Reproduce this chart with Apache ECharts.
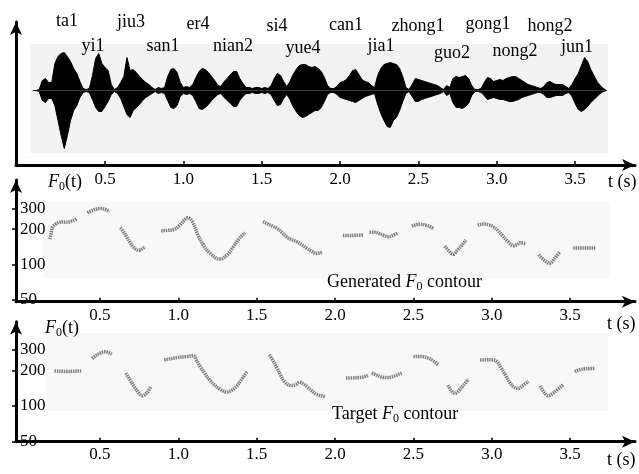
<!DOCTYPE html>
<html>
<head>
<meta charset="utf-8">
<script src="https://cdn.jsdelivr.net/npm/echarts@6/dist/echarts.min.js"></script>
<style>
  html, body { margin: 0; padding: 0; background: #fff; }
  #chart { width: 639px; height: 474px; }
</style>
</head>
<body>
<div id="chart"></div>
<script>
// syllable labels above the waveform
const syllables = ['ta1', 'yi1', 'jiu3', 'san1', 'er4', 'nian2', 'si4', 'yue4',
  'can1', 'jia1', 'zhong1', 'guo2', 'gong1', 'nong2', 'hong2', 'jun1'];
const syllableTime = [0.257, 0.423, 0.666, 0.870, 1.093, 1.317, 1.597, 1.763,
  2.038, 2.261, 2.497, 2.714, 2.944, 3.116, 3.339, 3.512];
const syllableLift = [69.5, 44.5, 68.5, 44.5, 66.5, 44.5, 64.5, 42.5,
  65.5, 44.5, 64.5, 37.5, 66.5, 39.5, 64.5, 43.5];

// time axis ticks (s)
const timeTicks = [0.5, 1.0, 1.5, 2.0, 2.5, 3.0, 3.5];
// F0 axis ticks (Hz, log)
const f0Ticks = [50, 100, 200, 300];

// waveform envelope (arbitrary amplitude units)
const waveTime = [
  0.04, 0.06, 0.08, 0.10, 0.12, 0.14, 0.16, 0.18, 0.20, 0.22,
  0.24, 0.26, 0.28, 0.30, 0.32, 0.34, 0.36, 0.38, 0.40, 0.42,
  0.44, 0.46, 0.48, 0.50, 0.52, 0.54, 0.56, 0.58, 0.60, 0.62,
  0.64, 0.66, 0.68, 0.70, 0.72, 0.74, 0.76, 0.78, 0.80, 0.82,
  0.84, 0.86, 0.88, 0.90, 0.92, 0.94, 0.96, 0.98, 1.00, 1.02,
  1.04, 1.06, 1.08, 1.10, 1.12, 1.14, 1.16, 1.18, 1.20, 1.22,
  1.24, 1.26, 1.28, 1.30, 1.32, 1.34, 1.36, 1.38, 1.40, 1.42,
  1.44, 1.46, 1.48, 1.50, 1.52, 1.54, 1.56, 1.58, 1.60, 1.62,
  1.64, 1.66, 1.68, 1.70, 1.72, 1.74, 1.76, 1.78, 1.80, 1.82,
  1.84, 1.86, 1.88, 1.90, 1.92, 1.94, 1.96, 1.98, 2.00, 2.02,
  2.04, 2.06, 2.08, 2.10, 2.12, 2.14, 2.16, 2.18, 2.20, 2.22,
  2.24, 2.26, 2.28, 2.30, 2.32, 2.34, 2.36, 2.38, 2.40, 2.42,
  2.44, 2.46, 2.48, 2.50, 2.52, 2.54, 2.56, 2.58, 2.60, 2.62,
  2.64, 2.66, 2.68, 2.70, 2.72, 2.74, 2.76, 2.78, 2.80, 2.82,
  2.84, 2.86, 2.88, 2.90, 2.92, 2.94, 2.96, 2.98, 3.00, 3.02,
  3.04, 3.06, 3.08, 3.10, 3.12, 3.14, 3.16, 3.18, 3.20, 3.22,
  3.24, 3.26, 3.28, 3.30, 3.32, 3.34, 3.36, 3.38, 3.40, 3.42,
  3.44, 3.46, 3.48, 3.50, 3.52, 3.54, 3.56, 3.58, 3.60, 3.62,
  3.64, 3.66, 3.68, 3.70
];
const waveUpper = [
  0, 0, 1, 10, 12, 8, 8, 27, 34, 37,
  38, 34, 29, 22, 17, 9, 2, 1, 2, 15,
  32, 37, 27, 23, 20, 6, 1, 3, 8, 14,
  33, 20, 21, 18, 14, 11, 8, 6, 3, 1,
  3, 2, 3, 14, 21, 22, 18, 8, 3, 4,
  3, 6, 13, 19, 22, 21, 18, 14, 10, 5,
  4, 9, 12, 16, 19, 19, 12, 7, 3, 3,
  2, 3, 3, 2, 3, 2, 5, 12, 17, 15,
  9, 4, 9, 16, 21, 25, 26, 26, 24, 23,
  24, 22, 19, 13, 5, 2, 2, 4, 8, 9,
  11, 15, 20, 21, 16, 11, 9, 8, 5, 3,
  15, 22, 26, 27, 28, 27, 26, 22, 14, 3,
  1, 6, 12, 11, 10, 9, 8, 7, 6, 5,
  3, 1, 5, 3, 12, 14, 13, 14, 15, 12,
  5, 1, 1, 2, 8, 13, 12, 9, 10, 11,
  10, 12, 13, 14, 14, 12, 10, 8, 6, 5,
  4, 3, 2, 4, 8, 9, 7, 6, 6, 6,
  4, 2, 6, 12, 17, 25, 33, 29, 21, 15,
  9, 5, 2, 0
];
const waveLower = [
  0, 0, -1, -10, -12, -8, -8, -15, -30, -45,
  -58, -45, -30, -20, -15, -7, -2, -1, -2, -9,
  -17, -21, -21, -16, -11, -4, -1, -3, -8, -16,
  -24, -27, -20, -17, -14, -10, -7, -5, -3, -1,
  -3, -2, -3, -10, -17, -18, -15, -6, -3, -4,
  -3, -5, -11, -18, -19, -17, -14, -10, -7, -4,
  -3, -7, -10, -13, -16, -16, -10, -6, -3, -3,
  -2, -3, -3, -2, -3, -2, -4, -10, -15, -14,
  -8, -4, -9, -16, -21, -25, -27, -26, -24, -22,
  -20, -20, -17, -11, -4, -2, -2, -4, -7, -8,
  -9, -10, -11, -12, -10, -8, -6, -5, -4, -3,
  -14, -23, -30, -36, -37, -30, -27, -20, -11, -3,
  -1, -6, -11, -11, -9, -8, -7, -6, -5, -4,
  -3, -1, -5, -3, -12, -17, -17, -18, -16, -13,
  -5, -1, -1, -2, -5, -9, -8, -7, -8, -9,
  -9, -10, -11, -11, -10, -9, -7, -6, -5, -4,
  -3, -2, -2, -4, -7, -7, -6, -5, -5, -5,
  -3, -2, -6, -13, -19, -21, -19, -16, -12, -9,
  -6, -3, -1, 0
];

// generated F0 contour, one list of [t (s), F0 (Hz)] per voiced stretch
const generatedF0 = [
  [[0.18, 164], [0.19, 190], [0.20, 210], [0.22, 222], [0.24, 228], [0.26, 230], [0.28, 229], [0.30, 230], [0.32, 234], [0.34, 240], [0.35, 245]],
  [[0.42, 275], [0.44, 285], [0.46, 292], [0.48, 297], [0.50, 300], [0.52, 298], [0.54, 292], [0.56, 280]],
  [[0.63, 205], [0.65, 190], [0.67, 172], [0.69, 155], [0.71, 142], [0.73, 134], [0.75, 132], [0.77, 136], [0.79, 142]],
  [[0.89, 193], [0.93, 195], [0.97, 198], [1.01, 217], [1.04, 240], [1.06, 250], [1.09, 231], [1.125, 178], [1.16, 146], [1.20, 125], [1.265, 111], [1.31, 120], [1.35, 141], [1.39, 167], [1.425, 186]],
  [[1.54, 232], [1.57, 222], [1.60, 212], [1.63, 203], [1.66, 188], [1.69, 172], [1.72, 163], [1.755, 156], [1.79, 146], [1.82, 137], [1.85, 130], [1.88, 124], [1.92, 127]],
  [[2.05, 176], [2.09, 176], [2.13, 177], [2.18, 178]],
  [[2.22, 188], [2.25, 188], [2.28, 184], [2.31, 177], [2.34, 172], [2.37, 177], [2.40, 186]],
  [[2.49, 212], [2.52, 218], [2.545, 220], [2.58, 216], [2.61, 209], [2.63, 202]],
  [[2.70, 143], [2.725, 131], [2.755, 122], [2.78, 132], [2.81, 146], [2.835, 161]],
  [[2.91, 216], [2.945, 221], [2.98, 218], [3.01, 209], [3.04, 194], [3.065, 178], [3.105, 156], [3.14, 144], [3.16, 147], [3.18, 153], [3.22, 150]],
  [[3.30, 121], [3.33, 110], [3.37, 102], [3.40, 112], [3.435, 128]],
  [[3.52, 138], [3.56, 138], [3.60, 138], [3.66, 138]]
];

// target F0 contour
const targetF0 = [
  [[0.21, 198], [0.25, 197], [0.29, 196], [0.33, 197], [0.38, 198]],
  [[0.45, 252], [0.47, 265], [0.50, 280], [0.53, 288], [0.55, 285], [0.575, 274]],
  [[0.665, 190], [0.69, 168], [0.72, 145], [0.75, 128], [0.77, 122], [0.80, 130], [0.825, 146]],
  [[0.91, 245], [0.99, 257], [1.05, 262], [1.095, 267], [1.115, 245], [1.14, 215], [1.17, 188], [1.20, 166], [1.23, 151], [1.265, 139], [1.31, 131], [1.34, 136], [1.37, 146], [1.40, 165], [1.44, 198]],
  [[1.58, 271], [1.60, 248], [1.63, 209], [1.655, 180], [1.68, 159], [1.72, 149], [1.75, 152], [1.775, 159], [1.80, 153], [1.82, 146], [1.85, 135], [1.88, 126], [1.935, 120]],
  [[2.07, 173], [2.11, 173], [2.15, 174], [2.18, 176], [2.21, 182]],
  [[2.235, 190], [2.26, 184], [2.29, 177], [2.33, 174], [2.36, 176], [2.39, 182], [2.425, 190]],
  [[2.50, 262], [2.53, 263], [2.56, 262], [2.59, 256], [2.625, 242], [2.66, 222]],
  [[2.72, 150], [2.74, 136], [2.765, 128], [2.79, 135], [2.82, 150], [2.85, 168]],
  [[2.925, 245], [2.96, 246], [3.00, 246], [3.03, 240], [3.06, 210], [3.09, 180], [3.115, 158], [3.14, 145], [3.17, 141], [3.20, 150], [3.235, 161]],
  [[3.31, 148], [3.335, 130], [3.36, 122], [3.39, 128], [3.42, 138], [3.455, 151]],
  [[3.53, 195], [3.56, 203], [3.59, 206], [3.62, 207], [3.66, 208]]
];

const serif = "'Liberation Serif', 'Times New Roman', serif";

// join the voiced stretches into one line, breaking between them
function withGaps(segments) {
  const out = [];
  segments.forEach((seg, i) => {
    if (i > 0) out.push([seg[0][0] - 0.005, null]);
    seg.forEach(p => out.push(p));
  });
  return out;
}

const axisLine = {
  show: true,
  onZero: false,
  symbol: ['none', 'arrow'],
  symbolSize: [9, 13],
  lineStyle: { color: '#000', width: 3 }
};

function timeAxis(gridIndex, min, max, margin) {
  return {
    type: 'value', gridIndex, min, max,
    axisLine,
    axisTick: { show: true, inside: true, length: 4, customValues: timeTicks, lineStyle: { color: '#000', width: 1.5 } },
    axisLabel: { show: true, customValues: timeTicks, margin, formatter: v => v.toFixed(1),
      fontFamily: serif, fontSize: 17, color: '#000' },
    splitLine: { show: false }
  };
}

function f0Axis(gridIndex, min, max) {
  return {
    type: 'log', logBase: 10, gridIndex, min, max,
    axisLine,
    axisTick: { show: true, length: 4, customValues: f0Ticks, lineStyle: { color: '#000', width: 1.5 } },
    axisLabel: { show: true, inside: true, margin: 4, customValues: f0Ticks,
      fontFamily: serif, fontSize: 17, color: '#000' },
    splitLine: { show: false }
  };
}

const contourStyle = {
  type: 'line', smooth: 0.4, showSymbol: false, connectNulls: false,
  lineStyle: { color: '#808080', width: 3.5, type: [1.5, 0.8] },
  silent: true, animation: false
};

const rich = {
  n: { fontFamily: serif, fontSize: 18, color: '#000', lineHeight: 22 },
  f: { fontFamily: serif, fontSize: 18, fontStyle: 'italic', color: '#000', lineHeight: 22 },
  s: { fontFamily: serif, fontSize: 12, color: '#000', verticalAlign: 'bottom', lineHeight: 14 }
};

function label(left, top, text) {
  return { type: 'text', left, top, style: { text, rich, fill: '#000' } };
}

const chart = echarts.init(document.getElementById('chart'), null, { renderer: 'canvas' });

chart.setOption({
  backgroundColor: '#fff',
  animation: false,
  grid: [
    { left: 16, top: 22, width: 619, height: 143 },
    { left: 16, top: 180, width: 619, height: 121.7 },
    { left: 16, top: 321.7, width: 619, height: 120 }
  ],
  xAxis: [
    timeAxis(0, -0.068, 3.882, 6),
    timeAxis(1, -0.036, 3.914, 5),
    timeAxis(2, -0.036, 3.914, 4)
  ],
  yAxis: [
    { type: 'value', gridIndex: 0, min: -74.5, max: 68.5, axisLine,
      axisTick: { show: false }, axisLabel: { show: false }, splitLine: { show: false } },
    f0Axis(1, 48, 525),
    f0Axis(2, 49.8, 518)
  ],
  graphic: [
    { type: 'rect', z: -10, shape: { x: 30, y: 44, width: 578, height: 109 }, style: { fill: '#f3f3f3' } },
    { type: 'rect', z: -10, shape: { x: 43, y: 202, width: 567, height: 76 }, style: { fill: '#f8f8f8' } },
    { type: 'rect', z: -10, shape: { x: 45, y: 333, width: 563, height: 78 }, style: { fill: '#f8f8f8' } },
    label(48, 173, '{f|F}{s|0}{n|(t)}'),
    label(45, 319, '{f|F}{s|0}{n|(t)}'),
    label(327, 273, '{n|Generated }{f|F}{s|0}{n| contour}'),
    label(332, 405, '{n|Target }{f|F}{s|0}{n| contour}'),
    label(608, 173, '{n|t (s)}'),
    label(607, 315, '{n|t (s)}'),
    label(607, 451, '{n|t (s)}')
  ],
  series: [
    {
      type: 'line', xAxisIndex: 0, yAxisIndex: 0, showSymbol: false,
      data: waveTime.map((t, i) => [t, waveUpper[i]]),
      lineStyle: { color: '#000', width: 1 },
      areaStyle: { color: '#000', opacity: 1 }
    },
    {
      type: 'line', xAxisIndex: 0, yAxisIndex: 0, showSymbol: false,
      data: waveTime.map((t, i) => [t, waveLower[i]]),
      lineStyle: { color: '#000', width: 1 },
      areaStyle: { color: '#000', opacity: 1 }
    },
    {
      type: 'scatter', xAxisIndex: 0, yAxisIndex: 0, symbolSize: 0, clip: false,
      itemStyle: { opacity: 1 },
      data: syllables.map((s, i) => ({ name: s, value: [syllableTime[i], syllableLift[i]] })),
      label: { show: true, position: 'inside', formatter: p => p.name, opacity: 1,
        fontFamily: serif, fontSize: 18, color: '#000' }
    },
    Object.assign({ xAxisIndex: 1, yAxisIndex: 1, data: withGaps(generatedF0) }, contourStyle),
    Object.assign({ xAxisIndex: 2, yAxisIndex: 2, data: withGaps(targetF0) }, contourStyle)
  ]
});
</script>
</body>
</html>
